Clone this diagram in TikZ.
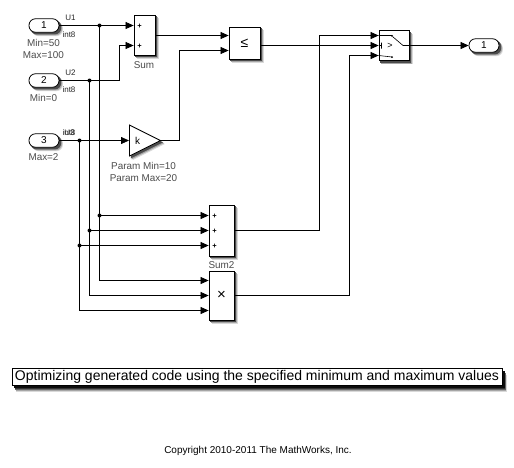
\documentclass[tikz,border=0pt]{standalone}
\usepackage{fontspec}
\setmainfont{Liberation Sans}
\usetikzlibrary{arrows.meta,shapes.geometric,backgrounds}
\definecolor{lbl}{gray}{0.3}
\tikzset{
  x=1pt,y=-1pt,
  blockbox/.style={draw=black,line width=.8pt,fill=white,rectangle,inner sep=0pt},
  portbox/.style={draw=black,line width=.8pt,fill=white,rectangle,rounded corners=6.5pt,inner sep=0pt,
     minimum width=30pt,minimum height=13.5pt,font=\fontsize{10}{12}\selectfont},
  wire/.style={line width=.75pt,draw=black},
  sig/.style={wire,-{Triangle[length=8pt,width=7pt]}},
  junction/.style={circle,fill=black,inner sep=0pt,minimum size=4pt},
  lab/.style={inner sep=0pt,font=\fontsize{9.9}{11}\selectfont,text=lbl},
  tinylab/.style={inner sep=0pt,font=\fontsize{8}{9}\selectfont,text=black!85},
  signmark/.style={inner sep=0pt,font=\fontsize{7.5}{9}\selectfont\bfseries},
}
\newcommand{\shadowrect}[5][0pt]{% corner radius, node, x offset, y offset, gray
  \fill[black!#5,rounded corners=#1] ([shift={(#3,#4)}]#2.north west) rectangle ([shift={(#3,#4)}]#2.south east);}
\newcommand{\blockshadow}[2][0pt]{%
  \shadowrect[#1]{#2}{3.5}{3.5}{15}\shadowrect[#1]{#2}{2.7}{2.7}{35}\shadowrect[#1]{#2}{1.8}{1.8}{70}}
\begin{document}
\begin{tikzpicture}
\useasboundingbox (0,0) rectangle (514,467);
% blocks
\node[portbox] (in1) at (44,25.5) {1};
\node[portbox] (in2) at (44,80.5) {2};
\node[portbox] (in3) at (44,140.5) {3};
\node[blockbox,minimum width=21pt,minimum height=40pt] (sum) at (144.5,35) {};
\node[blockbox,minimum width=31pt,minimum height=32pt,font=\fontsize{14}{14}\selectfont] (cmp) at (244.5,43) {≤};
\node[blockbox,isosceles triangle,isosceles triangle apex angle=54,minimum height=31pt,minimum width=31pt,
      isosceles triangle stretches,shape border rotate=0,anchor=west] (gain) at (129,140.5) {};
\node[blockbox,minimum width=25pt,minimum height=51pt] (sumb) at (221.5,230.5) {};
\node[blockbox,minimum width=25pt,minimum height=49pt,font=\fontsize{15}{15}\selectfont] (prod) at (221.5,295.5) {×};
\node[blockbox,minimum width=30pt,minimum height=30pt] (sw) at (394,45.5) {};
\node[portbox] (out) at (484,45.5) {1};
% port coordinates
\coordinate (s1) at (sum.west |- in1.east);
\coordinate (s2) at (sum.west |- 0,45.5);
\coordinate (c1) at (cmp.west |- 0,35.5);
\coordinate (c2) at (cmp.west |- 0,50.5);
\coordinate (w1) at (sw.west |- 0,35.5);
\coordinate (w2) at (sw.west |- 0,45.5);
\coordinate (w3) at (sw.west |- 0,55.5);
\coordinate (b1) at (sumb.west |- 0,215.5);
\coordinate (b2) at (sumb.west |- 0,230.5);
\coordinate (b3) at (sumb.west |- 0,245.5);
\coordinate (p1) at (prod.west |- 0,280.5);
\coordinate (p2) at (prod.west |- 0,295.5);
\coordinate (p3) at (prod.west |- 0,310.5);
\coordinate (v1) at (99.5,25.5);
\coordinate (v2) at (89.5,80.5);
\coordinate (v3) at (79.5,140.5);
% wires
\draw[sig] (in1.east) -- (s1);
\draw[sig] (in2.east) -- (119.5,80.5) -- (119.5,45.5) -- (s2);
\draw[sig] (in3.east) -- (gain.west);
\draw[sig] (sum.east |- c1) -- (c1);
\draw[sig] (gain.east) -- (179.5,140.5) -- (179.5,50.5) -- (c2);
\draw[sig] (cmp.east |- w2) -- (w2);
\draw[sig] (sumb.east) -- (319.5,230.5) -- (319.5,35.5) -- (w1);
\draw[sig] (prod.east) -- (349.5,295.5) -- (349.5,55.5) -- (w3);
\draw[sig] (sw.east) -- (out.west);
\draw[sig] (v1) -- (99.5,280.5) -- (p1);
\draw[sig] (v2) -- (89.5,295.5) -- (p2);
\draw[sig] (v3) -- (79.5,310.5) -- (p3);
\draw[sig] (99.5,215.5) -- (b1);
\draw[sig] (89.5,230.5) -- (b2);
\draw[sig] (79.5,245.5) -- (b3);
% junctions
\foreach \n/\p in {j1/{99.5,25.5},j2/{89.5,80.5},j3/{79.5,140.5},j4/{99.5,215.5},j5/{89.5,230.5},j6/{79.5,245.5}}
  \node[junction] (\n) at (\p) {};
% block marks
\node[signmark] (ps1) at (139.5,26.5) {+};
\node[signmark] (ps2) at (139.5,46.5) {+};
\node[signmark] (pb1) at (214.5,216.5) {+};
\node[signmark] (pb2) at (214.5,231.5) {+};
\node[signmark] (pb3) at (214.5,246.5) {+};
\node[inner sep=0pt,font=\fontsize{10}{12}\selectfont] (k) at (137.5,141) {k};
% switch icon
\draw[line width=.6pt] (w1) -- (392,35.5) (w3) -- (392,57) (379,45.5) -- (381.5,45.5) (381.5,42.5) -- (381.5,48.5)
  (392.5,36.5) -- (403,45.5) -- (sw.east);
\fill (392,35.8) circle (1pt) (392,57) circle (1pt);
\node[inner sep=0pt,font=\fontsize{9}{11}\selectfont] (gt) at (390,45.5) {>};
% labels
\node[lab] (l1) at (43.5,43) {Min=50};
\node[lab] (l2) at (43.5,55.5) {Max=100};
\node[lab] (l3) at (43.5,97.5) {Min=0};
\node[lab] (l4) at (43.5,157.5) {Max=2};
\node[lab] (l5) at (144,65) {Sum};
\node[lab] (l6) at (221.5,265.5) {Sum2};
\node[lab] (l7) at (143.5,166) {Param Min=10};
\node[lab] (l8) at (143.5,178.5) {Param Max=20};
\node[tinylab] (u1) at (70.5,18) {U1};
\node[tinylab] (u2) at (70.5,73) {U2};
\node[tinylab] (u3) at (69.5,133) {U3};
\node[tinylab] (t1) at (69,35) {int8};
\node[tinylab] (t2) at (69,90) {int8};
\node[tinylab] (t3) at (69,133) {int8};
% annotation
\node[rectangle,draw=black,line width=.8pt,fill=white,inner sep=0pt,minimum width=490pt,minimum height=17pt,
      font=\fontsize{14}{16}\selectfont] (title) at (257,376.5) {Optimizing generated code using the specified minimum and maximum values};
\node[inner sep=0pt,font=\fontsize{10}{11}\selectfont] (copy) at (258,450.5) {Copyright 2010-2011 The MathWorks, Inc.};
% page and shadows
\begin{scope}[on background layer]
\fill[white] (0,0) rectangle (514,467);
\blockshadow[6.5pt]{in1}\blockshadow[6.5pt]{in2}\blockshadow[6.5pt]{in3}\blockshadow[6.5pt]{out}
\blockshadow{sum}\blockshadow{cmp}\blockshadow{sumb}\blockshadow{prod}\blockshadow{sw}
\foreach \d/\g in {3.5/15,2.7/35,1.8/70}
  \fill[black!\g] ([shift={(\d,\d)}]gain.apex) -- ([shift={(\d,\d)}]gain.left corner) -- ([shift={(\d,\d)}]gain.right corner) -- cycle;
\shadowrect{title}{4.5}{7}{15}\shadowrect{title}{4}{6}{35}\shadowrect{title}{3.5}{5}{60}\shadowrect{title}{3}{4}{80}\shadowrect{title}{2.5}{3}{95}
\end{scope}
\end{tikzpicture}
\end{document}
